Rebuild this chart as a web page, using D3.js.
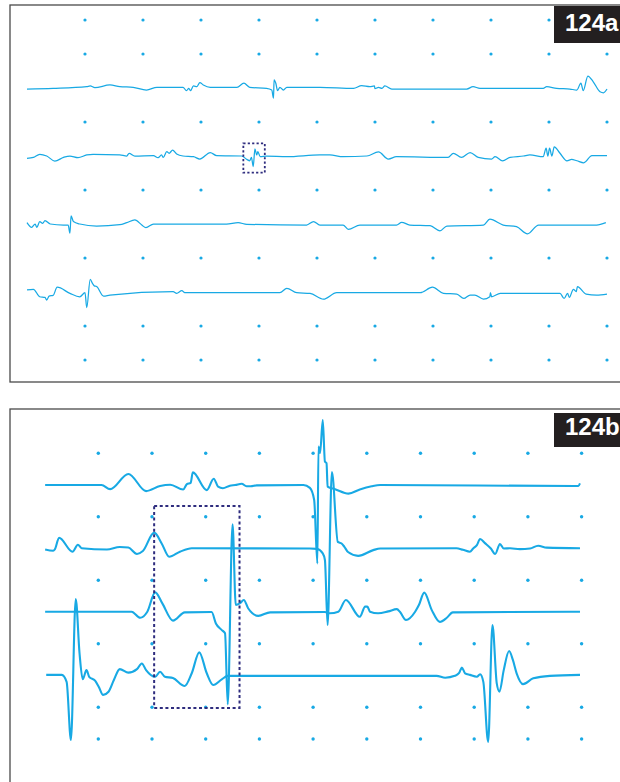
<!DOCTYPE html>
<html>
<head>
<meta charset="utf-8">
<script src="https://cdn.jsdelivr.net/npm/d3@7"></script>
<style>
  html, body { margin: 0; padding: 0; background: #fff; }
  svg { display: block; }
</style>
</head>
<body>
<svg id="chart" width="620" height="782"></svg>
<script>
// ---- Recording data: [time in ms, deflection in grid units (positive = up)] ----

// Panel 124a: four channels, slow sweep
const traceA1 = [[0,-0.03],[45,-0.01],[103,0.04],[109,0.06],[117,0.01],[143,0.09],[160,0.04],[183,0.02],[206,-0.06],[224,0.02],[269,0.02],[275,-0.08],[279,-0.01],[282,-0.08],[287,0.06],[293,0.04],[298,0.16],[304,0.09],[316,0.02],[362,0.02],[374,0.14],[384,0.02],[413,-0.01],[422,-0.06],[425,-0.30],[426,0.24],[429,0.14],[432,-0.08],[436,0.02],[442,-0.06],[448,0.02],[505,0.02],[563,-0.01],[577,0.07],[591,0.04],[599,0.06],[600,-0.02],[606,0.02],[612,-0.01],[617,0.06],[629,-0.03],[758,-0.03],[769,0.04],[781,-0.01],[890,-0.01],[896,0.04],[913,-0.01],[936,-0.03],[948,-0.06],[955,0.14],[959,-0.08],[967,0.35],[976,0.19],[988,-0.11],[994,-0.14],[1000,-0.03]];
const traceA2 = [[0,-0.07],[11,-0.04],[22,0.05],[34,0],[48,-0.15],[63,-0.04],[74,0],[88,-0.05],[103,0.03],[114,0.05],[160,0.03],[172,0],[176,0.08],[186,0],[218,0.01],[226,-0.05],[232,0.03],[235,-0.04],[241,0.13],[245,0.08],[251,0.17],[258,0.06],[269,0],[287,-0.02],[298,-0.09],[316,0.1],[327,0.01],[370,0],[379,-0.1],[384,-0.14],[387,-0.04],[390,-0.31],[393,0.21],[396,0.03],[398,0.13],[402,-0.02],[413,0],[448,-0.02],[505,0.03],[522,0.03],[545,-0.02],[586,0],[606,0.12],[623,-0.09],[637,-0.02],[726,-0.04],[735,0.08],[749,-0.04],[764,0.1],[778,-0.04],[801,-0.09],[807,-0.02],[820,-0.14],[833,-0.04],[856,0],[867,0.03],[890,-0.02],[895,0.23],[898,0],[901,0.23],[905,0],[909,0.27],[919,0.08],[931,-0.14],[939,-0.1],[948,-0.14],[960,-0.2],[974,0.01],[1000,0.01]];
const traceA3 = [[0,0.04],[8,-0.1],[14,0],[17,-0.1],[22,0.07],[27,0.02],[31,0.1],[40,0],[63,-0.03],[71,-0.03],[74,-0.27],[76,0.24],[80,0.07],[91,0],[120,-0.06],[160,-0.02],[172,0.04],[186,0.12],[198,-0.03],[205,-0.11],[218,0],[344,0],[364,0.04],[379,-0.01],[482,-0.03],[494,0.07],[505,-0.03],[545,-0.03],[554,-0.16],[574,-0.03],[637,-0.03],[646,0.05],[660,-0.03],[695,-0.05],[712,-0.2],[724,-0.06],[787,-0.03],[798,0.14],[821,-0.03],[844,-0.08],[863,-0.29],[882,-0.03],[982,-0.03],[998,0.04]];
const traceA4 = [[0,0.06],[11,0.08],[22,-0.14],[31,-0.16],[34,-0.24],[38,-0.12],[45,-0.1],[52,0.14],[74,-0.04],[91,-0.14],[100,-0.02],[103,-0.46],[109,0.37],[113,0.25],[116,0.18],[120,0.16],[132,-0.12],[143,-0.09],[252,0.01],[258,-0.04],[267,0.04],[272,-0.02],[436,-0.02],[448,0.11],[465,-0.02],[488,-0.04],[511,-0.21],[534,-0.02],[678,-0.02],[699,0.14],[718,-0.04],[741,-0.06],[753,-0.19],[764,-0.09],[772,-0.09],[787,-0.21],[798,-0.14],[799,-0.02],[801,-0.14],[816,-0.04],[919,-0.04],[926,-0.19],[932,-0.04],[935,-0.16],[942,0.08],[947,0.01],[949,0.16],[964,-0.06],[982,-0.09],[1000,-0.06]];

// Panel 124b: the same four channels, fast sweep
const traceB1 = [[1,0],[106,0],[122,-0.13],[156,0.35],[189,-0.19],[215,-0.03],[234,0.01],[258,-0.14],[265,0.03],[272,0.07],[276,0.4],[302,-0.16],[315,0.2],[323,-0.05],[332,-0.1],[345,-0.02],[355,0],[367,0.04],[376,-0.04],[384,-0.04],[395,-0.01],[482,0],[494,-0.09],[502,-0.47],[508,-2.47],[510,1.21],[513,1.01],[518,2.05],[522,0.74],[525,0.69],[527,-0.05],[541,-0.13],[566,-0.27],[587,-0.14],[609,-0.04],[625,0],[988,-0.03],[994,-0.03],[997,0.05]];
const traceB2 = [[1,-0.03],[16,-0.07],[19,-0.03],[27,0.34],[52,-0.1],[62,0.12],[69,0.01],[116,-0.03],[140,0.05],[156,0.03],[172,-0.17],[183,-0.08],[204,0.5],[218,0.16],[232,-0.26],[252,-0.1],[274,0.01],[494,0],[507,-0.01],[518,-0.15],[522,-0.36],[527,-2.41],[535,2.41],[546,0.21],[553,0.16],[558,0.06],[565,-0.11],[584,-0.23],[612,-0.05],[625,0],[767,0.01],[779,-0.04],[792,-0.1],[798,0],[805,0.11],[811,0.3],[820,0.17],[831,0],[839,-0.17],[848,0.14],[855,0],[867,0.01],[885,-0.02],[904,0],[919,0.09],[935,0.03],[997,0.01]];
const traceB3 = [[1,0.01],[162,0.01],[178,-0.18],[191,0],[206,0.62],[219,0.28],[239,-0.27],[261,-0.01],[311,0],[319,-0.36],[330,-0.57],[336,-0.67],[341,-2.91],[350,2.76],[356,0.22],[364,0.28],[371,0.38],[379,0.12],[398,-0.12],[420,-0.01],[522,0],[531,-0.04],[547,0.01],[561,0.38],[587,-0.15],[597,0.17],[601,0.17],[606,0.01],[621,-0.04],[640,0.02],[656,0.09],[662,0],[673,-0.25],[690,0.01],[697,0.22],[707,0.61],[721,0.06],[736,-0.31],[749,-0.18],[760,-0.01],[997,0.01]];
const traceB4 = [[3,0.02],[32,0.02],[41,-0.2],[49,-2.03],[58,2.41],[65,0.71],[71,-0.12],[78,0.17],[83,-0.04],[94,-0.16],[101,-0.36],[109,-0.61],[119,-0.51],[129,-0.14],[140,0.2],[156,0.09],[172,0.2],[181,0.38],[189,0.17],[206,-0.04],[215,0.12],[224,-0.04],[239,-0.08],[261,-0.33],[274,0.07],[288,0.73],[302,0.07],[314,-0.3],[330,-0.12],[341,-0.01],[730,-0.01],[746,-0.07],[764,-0.01],[772,0.08],[777,0.25],[783,0.07],[792,0.02],[805,-0.04],[811,0.04],[817,-0.2],[826,-2.09],[834,1.59],[842,-0.25],[847,-0.51],[855,0.17],[865,0.77],[872,0.49],[879,0.07],[891,-0.27],[910,-0.09],[941,-0.01],[997,0.02]];

// Channel baselines (grid row index) and grid layout
const baseRowsA = [2, 4, 6, 8];
const baseRowsB = [1, 3, 5, 7];
const gridTimes = [100, 200, 300, 400, 500, 600, 700, 800, 900, 1000];
const dotRowsA = [0, 1, 3, 5, 7, 9, 10];
const dotRowsB = [0, 2, 4, 6, 8, 9];

// Highlighted windows: [t start, t end, top row, bottom row]
const windowA = [373, 410, 3.63, 4.49];
const windowB = [204, 363, 1.66, 8.02];

const panelLabels = ["124a", "124b"];

// ---- Drawing ----
const svg = d3.select("#chart");
const blue = "#18a9e4";
const navy = "#2e2c7e";

const panels = [
  { label: panelLabels[0], frame: [10, 5, 640, 382], labelBox: [554, 6, 70, 37], labelY: 30.5,
    x: d3.scaleLinear().domain([0, 1000]).range([27, 607]),
    y: d3.scaleLinear().domain([0, 10]).range([20, 360]),
    traces: [traceA1, traceA2, traceA3, traceA4], bases: baseRowsA, dots: dotRowsA,
    win: windowA, lineW: 1.25, dotR: 1.6, winW: 1.8, dash: "2.2,2.2" },
  { label: panelLabels[1], frame: [10, 409, 640, 830], labelBox: [554, 413, 70, 34], labelY: 434.5,
    x: d3.scaleLinear().domain([0, 1000]).range([44.6, 581.6]),
    y: d3.scaleLinear().domain([0, 9]).range([453.3, 739]),
    traces: [traceB1, traceB2, traceB3, traceB4], bases: baseRowsB, dots: dotRowsB,
    win: windowB, lineW: 2.1, dotR: 1.7, winW: 2, dash: "3,2.6" }
];

panels.forEach(p => {
  const g = svg.append("g");
  const [fx0, fy0, fx1, fy1] = p.frame;

  g.append("rect")
    .attr("x", fx0).attr("y", fy0)
    .attr("width", fx1 - fx0).attr("height", fy1 - fy0)
    .attr("fill", "#fff")
    .attr("stroke", "#4a4a4a")
    .attr("stroke-width", 1.3);

  // grid dots
  const dots = [];
  p.dots.forEach(r => gridTimes.forEach(t => dots.push([t, r])));
  g.append("g").selectAll("circle").data(dots).join("circle")
    .attr("cx", d => p.x(d[0]))
    .attr("cy", d => p.y(d[1]))
    .attr("r", p.dotR)
    .attr("fill", blue);

  // channel traces
  p.traces.forEach((tr, i) => {
    const base = p.bases[i];
    const line = d3.line()
      .x(d => p.x(d[0]))
      .y(d => p.y(base - d[1]))
      .curve(d3.curveMonotoneX);
    g.append("path")
      .datum(tr)
      .attr("d", line)
      .attr("fill", "none")
      .attr("stroke", blue)
      .attr("stroke-width", p.lineW)
      .attr("stroke-linejoin", "round");
  });

  // highlighted window
  const [t0, t1, r0, r1] = p.win;
  g.append("rect")
    .attr("x", p.x(t0)).attr("y", p.y(r0))
    .attr("width", p.x(t1) - p.x(t0))
    .attr("height", p.y(r1) - p.y(r0))
    .attr("fill", "none")
    .attr("stroke", navy)
    .attr("stroke-width", p.winW)
    .attr("stroke-dasharray", p.dash);

  // panel label
  const [lx, ly, lw, lh] = p.labelBox;
  g.append("rect").attr("x", lx).attr("y", ly).attr("width", lw).attr("height", lh)
    .attr("fill", "#231f20");
  g.append("text")
    .attr("x", lx + 11).attr("y", p.labelY)
    .attr("fill", "#fff")
    .attr("font-family", "'Liberation Sans', Arial, sans-serif")
    .attr("font-weight", "bold")
    .attr("font-size", 24)
    .text(p.label);
});
</script>
</body>
</html>
